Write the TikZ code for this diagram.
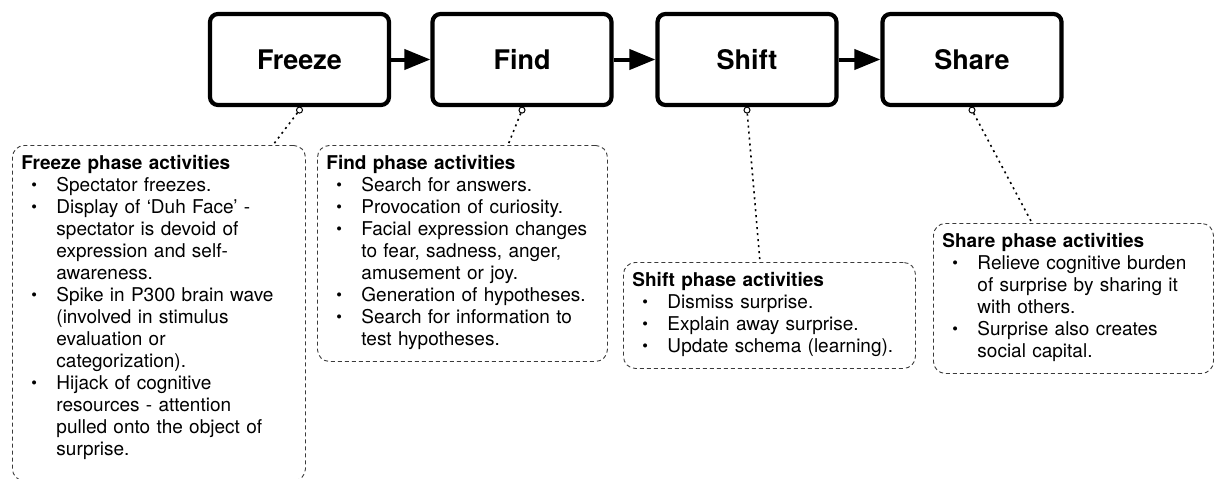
\documentclass[tikz,border=0pt]{standalone}
\usepackage{fontspec}
\setmainfont{TeX Gyre Heros}
\usepackage{xcolor}
\usepackage{graphicx}
\usepackage{tikz}
\usetikzlibrary{arrows.meta,positioning,calc}
\definecolor{notegray}{HTML}{3A3A3A}
\newcommand{\itm}{\hspace*{10pt}\makebox[25pt][l]{\raisebox{1.2pt}{\scalebox{0.85}{\textbullet}}}}
\newcommand{\cnt}{\hspace*{35pt}}

\begin{document}
\begin{tikzpicture}[x=1pt,y=-1pt,
  phasebox/.style={draw,line width=4.2pt,rounded corners=8pt,minimum width=179pt,minimum height=91pt,font=\fontsize{27}{31}\selectfont\bfseries},
  notebox/.style={draw=notegray,dash pattern=on 4pt off 3pt,line width=0.9pt,rounded corners=12pt,anchor=north west,align=left,inner xsep=9pt,inner ysep=9pt,font=\fontsize{19}{22}\selectfont},
  pin/.style={circle,draw,fill=white,line width=1pt,minimum size=6pt,inner sep=0pt},
  link/.style={line width=1.6pt,dash pattern=on 2pt off 4pt}]
  \useasboundingbox (0,0) rectangle (1216,479);
  % the four phases, each with its pin below
  \foreach \cx/\nm/\lab in {299.5/fz/Freeze, 522/fd/Find, 747/sf/Shift, 972/sh/Share}{
    \node[phasebox] (\nm) at (\cx,59.5) {\lab};
    \node[pin] (\nm-pin) at ($(\nm.south)+(0,3)$) {};
  }
  \foreach \a/\b in {fz/fd, fd/sf, sf/sh}
    \draw[line width=4pt,-{Triangle[length=26pt,width=20pt]}] (\a) -- (\b);

  % activity notes
  \node[notebox,text width=275pt] (note-fz) at (12,145) {\strut\textbf{Freeze phase activities}\\
    \itm Spectator freezes.\\
    \itm Display of ‘Duh Face’ -\\
    \cnt spectator is devoid of\\
    \cnt expression and self-\\
    \cnt awareness.\\
    \itm Spike in P300 brain wave\\
    \cnt (involved in stimulus\\
    \cnt evaluation or\\
    \cnt categorization).\\
    \itm Hijack of cognitive\\
    \cnt resources - attention\\
    \cnt pulled onto the object of\\
    \cnt surprise.\rule[-16pt]{0pt}{16pt}};
  \node[notebox,text width=272pt] (note-fd) at (317,145) {\strut\textbf{Find phase activities}\\
    \itm Search for answers.\\
    \itm Provocation of curiosity.\\
    \itm Facial expression changes\\
    \cnt to fear, sadness, anger,\\
    \cnt amusement or joy.\\
    \itm Generation of hypotheses.\\
    \itm Search for information to\\
    \cnt test hypotheses.\strut};
  \node[notebox,text width=274pt] (note-sf) at (623,262) {\strut\textbf{Shift phase activities}\\
    \itm Dismiss surprise.\\
    \itm Explain away surprise.\\
    \itm Update schema (learning).\strut};
  \node[notebox,text width=262pt] (note-sh) at (933,223) {\strut\textbf{Share phase activities}\\
    \itm Relieve cognitive burden\\
    \cnt of surprise by sharing it\\
    \cnt with others.\\
    \itm Surprise also creates\\
    \cnt social capital.\strut};

  % dotted links from pins to notes
  \foreach \nm/\dx in {fz/261, fd/191, sf/137, sh/99}
    \draw[link] (\nm-pin) -- ($(note-\nm.north west)+(\dx,0)$);
\end{tikzpicture}
\end{document}
